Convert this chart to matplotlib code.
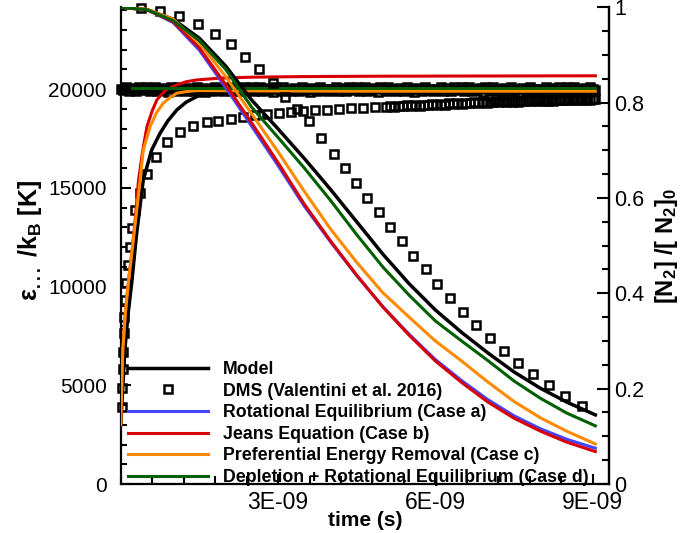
import numpy as np
import matplotlib
matplotlib.use("Agg")
import matplotlib.pyplot as plt
from matplotlib.lines import Line2D
from matplotlib.ticker import MultipleLocator, FixedLocator

plt.rcParams['font.family'] = ['Liberation Sans', 'DejaVu Sans']
plt.rcParams['mathtext.fontset'] = 'custom'
plt.rcParams['mathtext.rm'] = 'Liberation Sans'
plt.rcParams['mathtext.bf'] = 'Liberation Sans:bold'
plt.rcParams['mathtext.default'] = 'bf'

# ---------------- data (time in ns) ----------------
# N2 fraction  (right axis)
t_frac = [0.0, 0.5, 1.0, 1.5, 2.0, 2.5, 3.0, 3.5, 4.0, 4.5, 5.0, 5.5, 6.0, 6.5,
          7.0, 7.5, 8.0, 8.5, 9.05]
frac_model = [1.0, 0.995, 0.975, 0.935, 0.877, 0.805, 0.745, 0.683, 0.618, 0.550,
              0.482, 0.420, 0.365, 0.318, 0.275, 0.235, 0.201, 0.172, 0.145]
frac_a = [1.0, 0.995, 0.968, 0.910, 0.832, 0.750, 0.668, 0.583, 0.508, 0.437,
          0.372, 0.314, 0.261, 0.217, 0.177, 0.143, 0.116, 0.094, 0.075]
frac_b = [1.0, 0.995, 0.970, 0.915, 0.838, 0.757, 0.674, 0.587, 0.510, 0.438,
          0.371, 0.312, 0.258, 0.213, 0.172, 0.138, 0.111, 0.088, 0.068]
frac_c = [1.0, 0.996, 0.975, 0.925, 0.855, 0.776, 0.697, 0.614, 0.535, 0.465,
          0.401, 0.350, 0.300, 0.258, 0.214, 0.173, 0.139, 0.111, 0.084]
frac_d = [1.0, 0.995, 0.972, 0.930, 0.870, 0.790, 0.727, 0.663, 0.595, 0.523,
          0.455, 0.396, 0.342, 0.300, 0.259, 0.216, 0.180, 0.149, 0.122]

t_dms_frac = [0.38, 0.75, 1.12, 1.47, 1.80, 2.10, 2.37, 2.64, 2.90, 3.13, 3.37,
              3.59, 3.82, 4.06, 4.27, 4.48, 4.69, 4.93, 5.14, 5.36, 5.58, 5.82,
              6.04, 6.28, 6.53, 6.77, 7.04, 7.30, 7.58, 7.86, 8.17, 8.47, 8.79]
dms_frac = [0.998, 0.992, 0.982, 0.965, 0.945, 0.922, 0.896, 0.871, 0.842, 0.811,
            0.786, 0.761, 0.726, 0.692, 0.662, 0.631, 0.601, 0.570, 0.540, 0.510,
            0.478, 0.450, 0.420, 0.391, 0.361, 0.334, 0.306, 0.280, 0.254, 0.231,
            0.208, 0.185, 0.164]

# temperatures (left axis)
t_model_T = [0.0, 0.04, 0.08, 0.14, 0.21, 0.30, 0.43, 0.59, 0.75, 0.90, 1.07,
             1.25, 1.45, 1.65, 1.89, 2.4, 3.5, 5.0, 7.0, 9.05]
T_model = [3000, 4900, 6800, 8600, 10190, 12600, 15400, 16920, 17770, 18400,
           18950, 19350, 19625, 19780, 19880, 19920, 19920, 19920, 19920, 19920]
t_model_tr = [0.0, 9.05]
T_model_tr = [19990, 19990]

t_c_T = [0.0, 0.04, 0.09, 0.145, 0.22, 0.30, 0.37, 0.43, 0.56, 0.68, 0.81, 0.95,
         1.07, 1.25, 1.45, 1.7, 2.2, 3.0, 4.5, 6.0, 7.5, 9.05]
T_c = [3000, 6790, 8700, 10190, 11900, 13750, 15400, 16920, 18100, 18800, 19290,
       19600, 19800, 19880, 19930, 19930, 19920, 19910, 19900, 19900, 19900, 19900]

t_b_T = [0.0, 0.04, 0.09, 0.145, 0.22, 0.28, 0.34, 0.42, 0.50, 0.60, 0.69, 0.85,
         1.07, 1.25, 1.45, 1.89, 2.5, 3.5, 5.0, 7.0, 9.05]
T_b = [3000, 6790, 8700, 10190, 11900, 13500, 15400, 16900, 18100, 18900, 19460,
       19950, 20220, 20380, 20470, 20560, 20610, 20640, 20660, 20670, 20680]

t_eq_T = [0.22, 9.05]
T_a = [20050, 20050]
T_d = [20050, 20050]

t_dms_rot = [0.02, 0.03, 0.04, 0.05, 0.06, 0.07, 0.09, 0.11, 0.14, 0.17, 0.22,
             0.28, 0.36, 0.50, 0.68, 0.89, 1.13, 1.38, 1.64, 1.86, 2.10, 2.33,
             2.56, 2.79, 3.02, 3.25, 3.48, 3.71, 3.94, 4.17, 4.40, 4.62, 4.84,
             5.05, 5.14, 5.22, 5.30, 5.38, 5.46, 5.54, 5.62, 5.70, 5.78, 5.86,
             5.94, 6.02, 6.10, 6.18, 6.26, 6.34, 6.42, 6.50, 6.58, 6.66, 6.74,
             6.82, 6.90, 6.98, 7.04, 7.10, 7.16, 7.22, 7.28, 7.34, 7.40, 7.46,
             7.52, 7.58, 7.64, 7.70, 7.76, 7.82, 7.88, 7.94, 8.00, 8.05, 8.10,
             8.15, 8.20, 8.25, 8.30, 8.35, 8.40, 8.45, 8.50, 8.55, 8.60, 8.65,
             8.70, 8.75, 8.80, 8.85, 8.90, 8.95, 9.00, 9.04]
T_dms_rot = [3920, 4850, 5810, 6700, 7640, 8480, 9320, 10170, 11100, 12020, 12970,
             13880, 14730, 15700, 16550, 17350, 17850, 18160, 18330, 18410, 18480,
             18600, 18680, 18740, 18790, 18860, 18900, 18930, 18960, 19000, 19030,
             19060, 19090, 19120, 19150, 19110, 19170, 19140, 19190, 19150, 19200,
             19170, 19220, 19180, 19240, 19200, 19260, 19220, 19280, 19240, 19300,
             19260, 19310, 19280, 19340, 19300, 19350, 19320, 19370, 19330, 19380,
             19340, 19390, 19350, 19400, 19360, 19410, 19370, 19420, 19380, 19430,
             19390, 19440, 19400, 19450, 19410, 19450, 19420, 19460, 19420, 19470,
             19430, 19470, 19440, 19480, 19440, 19490, 19450, 19490, 19460, 19500,
             19460, 19500, 19470, 19500, 19480]

t_dms_tr = [0.00, 0.05, 0.10, 0.15, 0.20, 0.25, 0.30, 0.35, 0.40, 0.45,
            0.50, 0.55, 0.60, 0.65, 0.70, 0.75, 0.80, 0.85, 0.90, 0.95,
            1.00, 1.05, 1.10, 1.15, 1.20, 1.25, 1.30, 1.35, 1.40, 1.45,
            1.50, 1.55, 1.60, 1.65, 1.70, 1.75, 1.80, 1.85, 1.90, 1.95,
            2.00, 2.05, 2.10, 2.15, 2.20, 2.25, 2.30, 2.35, 2.40, 2.45,
            2.50, 2.55, 2.60, 2.65, 2.70, 2.75, 2.80, 2.85, 2.90, 2.95,
            3.00, 3.05, 3.10, 3.15, 3.20, 3.25, 3.30, 3.35, 3.40, 3.45,
            3.50, 3.55, 3.60, 3.65, 3.70, 3.75, 3.80, 3.85, 3.90, 3.95,
            4.00, 4.05, 4.10, 4.15, 4.20, 4.25, 4.30, 4.35, 4.40, 4.45,
            4.50, 4.55, 4.60, 4.65, 4.70, 4.75, 4.80, 4.85, 4.90, 4.95,
            5.00, 5.05, 5.10, 5.15, 5.20, 5.25, 5.30, 5.35, 5.40, 5.45,
            5.50, 5.55, 5.60, 5.65, 5.70, 5.75, 5.80, 5.85, 5.90, 5.95,
            6.00, 6.05, 6.10, 6.15, 6.20, 6.25, 6.30, 6.35, 6.40, 6.45,
            6.50, 6.55, 6.60, 6.65, 6.70, 6.75, 6.80, 6.85, 6.90, 6.95,
            7.00, 7.05, 7.10, 7.15, 7.20, 7.25, 7.30, 7.35, 7.40, 7.45,
            7.50, 7.55, 7.60, 7.65, 7.70, 7.75, 7.80, 7.85, 7.90, 7.95,
            8.00, 8.05, 8.10, 8.15, 8.20, 8.25, 8.30, 8.35, 8.40, 8.45,
            8.50, 8.55, 8.60, 8.65, 8.70, 8.75, 8.80, 8.85, 8.90, 8.95,
            9.00, 9.05]
T_dms_tr = [20020, 19980, 20110, 19900, 20040, 20000, 19890, 20120, 19980, 20020,
            20110, 19920, 20000, 20130, 19890, 20020, 19980, 20080, 19870, 20110,
            20000, 19920, 20120, 19980, 20020, 19890, 20080, 20000, 19930, 20110,
            19980, 20020, 19870, 20080, 20000, 19920, 20130, 19980, 20020, 19890,
            20020, 19980, 20110, 19900, 20040, 20000, 19890, 20120, 19980, 20020,
            20110, 19920, 20000, 20130, 19890, 20020, 19980, 20080, 19870, 20110,
            20000, 19920, 20120, 19980, 20020, 19890, 20080, 20000, 19930, 20110,
            19980, 20020, 19870, 20080, 20000, 19920, 20130, 19980, 20020, 19890,
            20020, 19980, 20110, 19900, 20040, 20000, 19890, 20120, 19980, 20020,
            20110, 19920, 20000, 20130, 19890, 20020, 19980, 20080, 19870, 20110,
            20000, 19920, 20120, 19980, 20020, 19890, 20080, 20000, 19930, 20110,
            19980, 20020, 19870, 20080, 20000, 19920, 20130, 19980, 20020, 19890,
            20020, 19980, 20110, 19900, 20040, 20000, 19890, 20120, 19980, 20020,
            20110, 19920, 20000, 20130, 19890, 20020, 19980, 20080, 19870, 20110,
            20000, 19920, 20120, 19980, 20020, 19890, 20080, 20000, 19930, 20110,
            19980, 20020, 19870, 20080, 20000, 19920, 20130, 19980, 20020, 19890,
            20020, 19980, 20110, 19900, 20040, 20000, 19890, 20120, 19980, 20020,
            20110, 19920, 20000, 20130, 19890, 20020, 19980, 20080, 19870, 20110,
            20000, 19960]

x_ticks = [3e-9, 6e-9, 9e-9]
x_tick_labels = ['3E-09', '6E-09', '9E-09']
left_ticks = [0, 5000, 10000, 15000, 20000]
right_ticks = [0, 0.2, 0.4, 0.6, 0.8, 1.0]
right_tick_labels = ['0', '0.2', '0.4', '0.6', '0.8', '1']

labels = ['Model', 'DMS (Valentini et al. 2016)', 'Rotational Equilibrium (Case a)',
          'Jeans Equation (Case b)', 'Preferential Energy Removal (Case c)',
          'Depletion + Rotational Equilibrium (Case d)']

# ---------------- styles ----------------
C_BLUE = '#4545ff'
C_RED = '#d80000'
C_ORANGE = '#ff8a00'
C_GREEN = '#006000'
LW = 2.2
SQ = dict(ls='none', marker='s', ms=5.6, mfc='none', mec='black', mew=1.8)

ns = 1e-9
def s(t):
    return np.asarray(t) * ns

W, H = 681, 533
fig = plt.figure(figsize=(W / 100, H / 100), dpi=100)
L, R, B, T = 120.7, 609.0, 484.0, 7.3
ax = fig.add_axes([L / W, 1 - B / H, (R - L) / W, (B - T) / H])
ax2 = ax.twinx()

ax.set_xlim(0, 9.31e-9)
ax.set_ylim(0, 24150)
ax2.set_ylim(0, 1)

# temperatures
ax.plot(s(t_dms_tr), T_dms_tr, clip_on=False, zorder=2, **SQ)
ax.plot(s(t_model_tr), T_model_tr, color='black', lw=3.0, zorder=2.5)
ax.plot(s(t_model_T), T_model, color='black', lw=2.5, zorder=3)
ax.plot(s(t_dms_rot), T_dms_rot, clip_on=False, zorder=3, **SQ)
ax.plot(s(t_eq_T), T_a, color=C_BLUE, lw=LW, zorder=4)
ax.plot(s(t_b_T), T_b, color=C_RED, lw=LW, zorder=4)
ax.plot(s(t_c_T), T_c, color=C_ORANGE, lw=LW, zorder=4)
ax.plot(s(t_eq_T), T_d, color=C_GREEN, lw=LW, zorder=4)

# N2 fractions
ax2.plot(s(t_frac), frac_model, color='black', lw=2.5, zorder=3)
ax2.plot(s(t_dms_frac), dms_frac, clip_on=False, zorder=3, **SQ)
ax2.plot(s(t_frac), frac_a, color=C_BLUE, lw=LW, zorder=4)
ax2.plot(s(t_frac), frac_b, color=C_RED, lw=LW, zorder=4)
ax2.plot(s(t_frac), frac_c, color=C_ORANGE, lw=LW, zorder=4)
ax2.plot(s(t_frac), frac_d, color=C_GREEN, lw=LW, zorder=4)

# spines
for a in (ax, ax2):
    a.spines['top'].set_visible(False)
    for sp in a.spines.values():
        sp.set_linewidth(1.6)
ax2.spines['left'].set_visible(False)
ax2.spines['bottom'].set_visible(False)

# ticks
ax.xaxis.set_major_locator(FixedLocator(x_ticks))
ax.set_xticklabels(x_tick_labels)
ax.xaxis.set_minor_locator(MultipleLocator(0.6e-9))
ax.yaxis.set_major_locator(FixedLocator(left_ticks))
ax.yaxis.set_minor_locator(MultipleLocator(1000))
ax.set_yticklabels([str(v) for v in left_ticks])
ax2.yaxis.set_major_locator(FixedLocator(right_ticks))
ax2.set_yticklabels(right_tick_labels)
ax2.yaxis.set_minor_locator(MultipleLocator(0.05))

ax.tick_params(axis='x', which='both', direction='in', top=False, labelsize=16.5,
               pad=5, width=1.5)
ax.tick_params(axis='x', which='major', length=7)
ax.tick_params(axis='x', which='minor', length=6)
ax.tick_params(axis='y', which='both', direction='in', right=False, labelsize=15,
               pad=10, width=1.5)
ax.tick_params(axis='y', which='major', length=7)
ax.tick_params(axis='y', which='minor', length=4.5)
ax2.tick_params(axis='y', which='both', direction='in', labelsize=15.5, pad=4,
                width=1.5)
ax2.tick_params(axis='y', which='major', length=8.5)
ax2.tick_params(axis='y', which='minor', length=5)

# axis labels
ax.set_xlabel('time (s)', fontsize=15, fontweight='bold', labelpad=-2)
fig.text(30 / W, 1 - 240 / H, r'ε$_{...}$ /k$_\mathbf{B}$ [K]', rotation=90,
         fontsize=18, fontweight='bold', ha='center', va='center')
fig.text(667 / W, 1 - 246 / H, r'[N$_\mathbf{2}$] /[ N$_\mathbf{2}$]$_\mathbf{0}$',
         rotation=90, fontsize=17, fontweight='bold', ha='center', va='center')

# legend
handles = [Line2D([], [], color='black', lw=2.5),
           Line2D([], [], **SQ),
           Line2D([], [], color=C_BLUE, lw=LW),
           Line2D([], [], color=C_RED, lw=LW),
           Line2D([], [], color=C_ORANGE, lw=LW),
           Line2D([], [], color=C_GREEN, lw=LW)]
leg = ax2.legend(handles, labels, loc='lower left',
                 bbox_to_anchor=(128 / W, 1 - 486 / H), bbox_transform=fig.transFigure,
                 frameon=False, borderpad=0, borderaxespad=0, handlelength=4.5,
                 handletextpad=0.83, labelspacing=0.26,
                 prop={'family': 'Liberation Sans', 'weight': 'bold', 'size': 12.8})
leg.set_zorder(10)

fig.savefig('out.png', dpi=100)
